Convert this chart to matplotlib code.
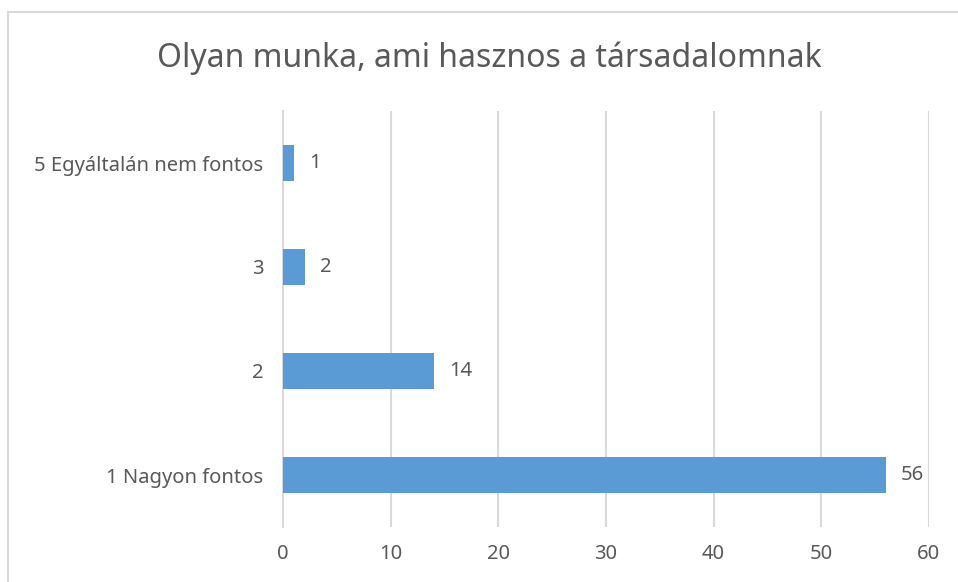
import matplotlib.pyplot as plt
from matplotlib.patches import Rectangle

categories = ['1 Nagyon fontos', '2', '3', '5 Egyáltalán nem fontos']
values = [56, 14, 2, 1]
xticks = [0, 10, 20, 30, 40, 50, 60]

plt.rcParams['font.family'] = ['Noto Sans', 'DejaVu Sans']
txt = '#595959'

fig = plt.figure(figsize=(9.58, 5.82), dpi=100)
ax = fig.add_axes([283 / 958, 1 - 527 / 582, 646 / 958, 416 / 582])

# keret
fig.patches.append(Rectangle((8 / 958, -0.1), 1.2, 1 - 12 / 582 + 0.1,
                             transform=fig.transFigure, fill=False,
                             edgecolor='#D9D9D9', linewidth=1.5))

y = range(len(categories))
ax.barh(y, values, height=0.35, color='#5B9BD5', zorder=3)
for yi, v in zip(y, values):
    ax.text(v + 1.4, yi, str(v), va='center', ha='left', fontsize=14.5, color=txt)

ax.set_xlim(0, 60)
ax.set_ylim(-0.5, 3.5)
ax.set_xticks(xticks)
ax.set_yticks(list(y))
ax.set_yticklabels(categories)
ax.tick_params(axis='both', length=0, labelsize=14.5, labelcolor=txt)
ax.tick_params(axis='x', pad=12)
ax.tick_params(axis='y', pad=14)
ax.grid(axis='x', color='#D9D9D9', linewidth=1.5, zorder=0)
for s in ['top', 'right', 'bottom']:
    ax.spines[s].set_visible(False)
ax.spines['left'].set_color('#D9D9D9')
ax.spines['left'].set_linewidth(1.5)

fig.text(489 / 958, 1 - 58 / 582, 'Olyan munka, ami hasznos a társadalomnak',
         ha='center', va='center', fontsize=23, color=txt)

fig.savefig('out.png', dpi=100, facecolor='white')
